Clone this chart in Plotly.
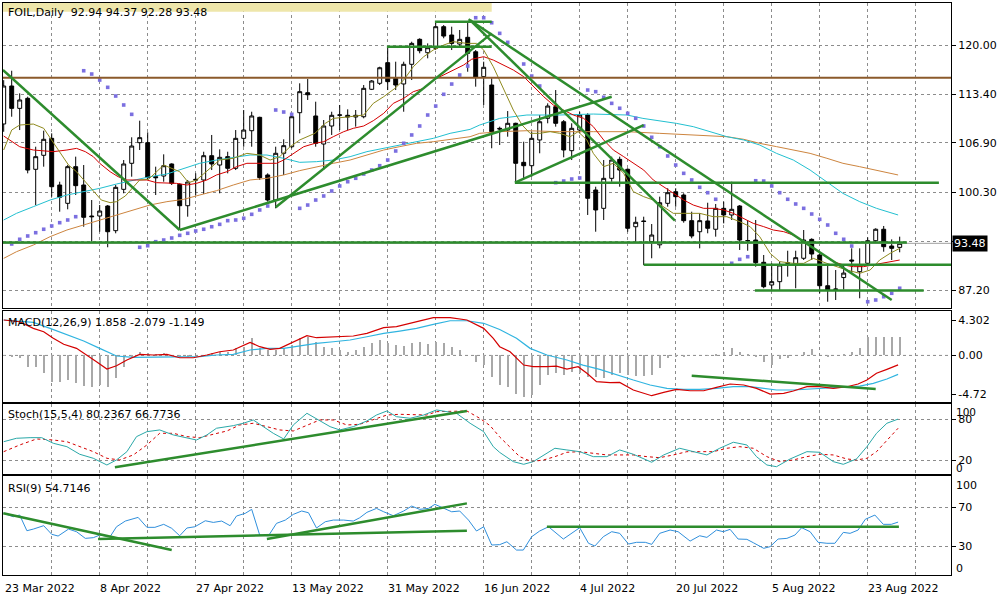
import plotly.graph_objects as go

# ---------------- data ----------------
date_labels = ["23 Mar 2022", "8 Apr 2022", "27 Apr 2022", "13 May 2022", "31 May 2022",
               "16 Jun 2022", "4 Jul 2022", "20 Jul 2022", "5 Aug 2022", "23 Aug 2022"]
date_label_bars = [0, 12, 24, 36, 48, 60, 72, 84, 96, 108]

open_ = [109.44, 114.52, 111.53, 112.87, 103.38, 105.25, 107.52, 101.28, 98.83, 103.73,
         101.28, 97.13, 97.13, 98.47, 95.17, 100.70, 104.18, 106.94, 106.94, 102.39,
         102.48, 104.09, 101.37, 98.51, 102.04, 101.95, 105.20, 103.95, 105.07, 103.51,
         107.52, 108.54, 110.33, 102.62, 99.27, 105.52, 106.40, 110.95, 113.62, 110.51,
         106.76, 109.17, 110.60, 110.60, 110.37, 110.41, 114.08, 114.88, 117.64, 115.55,
         114.79, 117.42, 120.76, 118.97, 119.56, 122.45, 121.34, 120.13, 121.03, 119.10,
         115.77, 114.65, 108.86, 108.63, 109.53, 104.31, 103.86, 107.30, 110.20, 111.75,
         109.74, 105.87, 108.63, 110.64, 100.61, 98.16, 102.17, 104.71, 103.38, 95.70,
         96.47, 93.70, 93.28, 98.83, 100.38, 99.94, 96.51, 95.03, 96.47, 95.36,
         98.16, 97.27, 98.47, 93.83, 93.92, 90.94, 87.91, 88.35, 90.81, 90.72,
         91.48, 94.01, 91.92, 87.81, 87.37, 88.90, 91.25, 89.69, 90.81, 93.83,
         95.36, 93.12, 92.94]
high = [115.30, 116.56, 113.54, 113.09, 106.40, 108.54, 108.19, 101.72, 103.95, 105.07,
        103.95, 99.27, 98.60, 98.60, 101.28, 104.62, 107.66, 109.88, 108.32, 103.73,
        105.38, 104.18, 101.50, 101.95, 102.84, 105.73, 107.97, 106.05, 105.73, 108.63,
        111.31, 111.08, 110.41, 102.84, 106.40, 107.39, 110.87, 114.88, 115.45, 112.42,
        109.97, 111.08, 111.98, 111.40, 111.31, 114.65, 115.32, 117.10, 119.77, 117.77,
        117.77, 120.44, 120.90, 120.22, 123.12, 122.67, 122.45, 122.01, 123.00, 119.33,
        117.77, 115.55, 109.08, 111.17, 109.61, 107.07, 108.41, 110.64, 112.20, 113.98,
        109.97, 109.53, 111.08, 110.87, 101.05, 104.62, 105.07, 105.07, 103.51, 97.04,
        97.04, 96.06, 99.72, 100.84, 100.84, 100.17, 97.71, 97.49, 98.91, 98.74,
        99.05, 101.72, 98.60, 96.51, 96.60, 91.92, 90.81, 91.02, 92.49, 92.49,
        95.26, 94.15, 92.15, 90.58, 89.91, 90.70, 92.81, 92.81, 94.28, 95.49,
        95.80, 94.01, 94.37]
low = [108.40, 110.41, 108.63, 102.84, 98.60, 103.73, 99.72, 97.71, 98.03, 99.94,
       95.70, 93.70, 95.03, 92.95, 94.82, 100.17, 102.39, 105.96, 101.95, 99.94,
       101.72, 101.28, 95.26, 97.04, 99.94, 100.08, 103.28, 100.17, 102.84, 103.28,
       106.40, 106.40, 101.95, 99.05, 98.16, 102.62, 106.19, 108.19, 112.65, 106.40,
       103.28, 107.97, 108.63, 108.63, 109.08, 110.20, 113.98, 114.65, 113.98, 113.98,
       111.08, 115.32, 118.89, 118.22, 119.33, 120.90, 119.33, 119.77, 116.43, 114.43,
       111.98, 106.19, 106.63, 107.74, 101.59, 102.17, 102.39, 105.52, 109.53, 109.08,
       104.98, 104.62, 108.19, 97.27, 95.03, 96.60, 101.72, 101.05, 95.03, 93.70,
       90.58, 91.48, 92.81, 98.38, 98.38, 96.24, 94.15, 92.81, 94.82, 94.37,
       96.15, 96.60, 92.59, 92.49, 90.35, 87.47, 87.24, 87.24, 89.02, 87.47,
       91.25, 91.25, 86.80, 85.67, 85.90, 87.30, 89.47, 86.13, 90.58, 93.70,
       92.36, 91.25, 92.28]
close = [114.52, 111.53, 112.65, 103.28, 105.07, 107.39, 101.05, 99.64, 103.73, 101.19,
         96.96, 97.04, 97.80, 95.03, 100.97, 104.09, 106.49, 107.61, 102.26, 102.26,
         103.86, 101.50, 98.51, 101.68, 101.95, 105.20, 104.09, 104.98, 103.51, 107.52,
         108.63, 110.51, 102.26, 99.27, 105.52, 106.54, 110.41, 113.76, 113.35, 106.85,
         109.17, 110.60, 110.65, 110.37, 110.60, 114.21, 115.19, 116.96, 115.10, 114.65,
         117.42, 120.22, 119.24, 119.64, 122.45, 121.20, 120.22, 120.76, 118.89, 115.68,
         117.02, 108.41, 108.77, 109.53, 104.18, 103.86, 107.52, 109.74, 111.84, 109.53,
         105.96, 108.86, 110.64, 99.50, 97.94, 102.17, 104.62, 103.28, 95.49, 96.29,
         96.40, 94.59, 98.91, 100.25, 99.72, 96.51, 94.46, 96.51, 95.49, 98.16,
         97.27, 98.03, 93.92, 93.85, 90.89, 87.68, 88.35, 90.58, 90.85, 91.56,
         93.92, 92.05, 87.81, 87.24, 87.33, 89.50, 91.12, 90.58, 93.83, 95.36,
         93.03, 92.81, 93.48]

sar = [None, 93.39, 94.02, 94.46, 94.90, 95.36, 95.80, 96.24, 96.60, 97.04,
       116.56, 116.12, 115.32, 114.34, 113.18, 111.98, 110.73, 92.95, 93.16, 93.70,
       93.92, 94.19, 94.55, 94.82, 95.13, 95.36, 95.70, 96.02, 96.51, 96.60,
       96.83, 97.36, 97.94, 98.47, 111.31, 111.04, 110.73, 98.16, 98.60, 99.27,
       99.81, 100.48, 101.15, 101.72, 102.18, 102.75, 103.28, 103.86, 104.62, 105.83,
       106.86, 107.97, 109.17, 110.64, 111.84, 113.41, 114.78, 115.99, 117.19, 123.65,
       123.65, 122.98, 121.56, 120.36, None, 117.46, 115.85, 114.52, None, 101.59,
       101.81, 102.08, 102.22, 113.98, 113.76, 113.01, 112.20, 111.54, 110.87, 110.20,
       109.17, 107.66, 106.40, 105.16, 103.95, 102.84, 101.95, 100.97, 100.25, 99.37,
       None, 90.81, 91.34, 91.69, 101.85, 101.81, 101.15, 100.25, 99.37, 98.74,
       98.16, 97.40, 96.69, 95.93, 94.82, 94.02, 93.12, None, 85.67, 85.90,
       86.34, 86.80, 87.47]

# moving averages sampled along the chart: (bar position, price)
ma_fast = [(0, 105.96), (1, 108.63), (2, 109.30), (3.7, 109.43), (5, 108.86), (6, 107.30), (7, 105.74),
           (8.1, 103.95), (9.1, 103.06), (10.2, 101.72), (11.2, 100.39), (12.2, 99.27), (13.3, 98.92),
           (14.1, 99.05), (15.2, 99.81), (16.2, 101.06), (17, 101.95), (18.1, 102.04), (20, 103.95),
           (22, 103.06), (23.1, 101.59), (24.1, 101.95), (25.6, 103.28), (27, 104.62), (28.7, 104.85),
           (30.4, 105.51), (32, 105.29), (33.3, 104.62), (34.5, 105.07), (35.8, 106.40), (37, 107.30),
           (38.9, 108.19), (40.2, 109.52), (41.2, 110.19), (43.3, 110.42), (45, 110.64), (46.2, 112.20),
           (47.5, 113.09), (48.9, 114.20), (50, 115.32), (51.2, 117.10), (52.5, 118.44), (53.7, 119.33),
           (55, 120.00), (56.2, 120.45), (57.9, 120.22), (59.1, 120.22), (60, 119.33), (61.2, 117.10),
           (62.5, 113.98), (63.7, 111.31), (64.8, 109.30), (65.8, 108.19), (67, 108.19), (68.3, 108.41),
           (69.5, 108.19), (70.8, 107.74), (71.8, 108.41), (72.9, 107.30), (73.7, 105.51), (75, 103.73),
           (76.2, 104.18), (77.5, 102.84), (78.7, 100.39), (80, 99.72), (81.2, 99.27), (82.5, 98.38),
           (83.7, 97.49), (85.4, 97.49), (87, 97.49), (88.7, 97.04), (90.4, 97.04), (92, 96.38),
           (93.3, 95.71), (94.5, 94.37), (95.8, 92.14), (97, 91.03), (98.7, 90.80), (100, 90.80),
           (101.2, 91.47), (102.9, 90.80), (104.1, 90.36), (105.4, 89.91), (107, 89.47), (108.3, 89.91),
           (109.5, 91.25), (110.8, 92.14), (112, 92.81)]
ma_mid = [(0, 107.83), (0.8, 107.30), (2, 106.40), (3.7, 105.96), (5, 105.87), (6.2, 105.74), (7.9, 105.96),
          (9.1, 106.18), (10.2, 105.74), (11.2, 105.07), (12, 104.18), (13.3, 103.06), (14.3, 102.39),
          (15.4, 101.95), (16.6, 101.95), (17.9, 101.95), (19.1, 101.59), (20.4, 101.50), (21.6, 101.50),
          (22.9, 101.28), (24.1, 101.50), (25.4, 101.95), (26.6, 102.62), (27.9, 103.06), (29.1, 103.73),
          (30.4, 104.18), (31.6, 104.18), (32.9, 104.18), (34.1, 104.18), (35, 104.62), (36.2, 105.51),
          (37.5, 106.40), (38.9, 106.85), (40, 107.07), (41.2, 107.74), (42.5, 108.41), (43.7, 108.86),
          (45, 109.17), (46.2, 109.88), (47.5, 110.86), (48.7, 112.20), (50, 112.87), (51.2, 113.76),
          (52.5, 114.20), (53.7, 115.32), (55, 115.99), (56.2, 116.66), (57.5, 117.33), (58.5, 118.10),
          (60, 118.44), (61.2, 117.99), (62.5, 117.33), (63.7, 116.66), (65, 115.77), (66.2, 114.43),
          (67.5, 113.09), (68.7, 111.98), (70, 111.31), (71.2, 110.64), (72.5, 110.19), (73.7, 109.08),
          (75, 107.30), (76.2, 105.96), (77.5, 105.07), (78.7, 104.18), (80, 103.28), (81.2, 101.95),
          (82.5, 101.06), (83.7, 100.16), (85, 99.27), (86.2, 98.60), (87.5, 98.16), (88.7, 98.16),
          (90, 97.94), (91.2, 97.49), (92.5, 96.82), (93.7, 96.15), (95, 95.71), (96.2, 95.26),
          (97.5, 95.04), (98.7, 94.59), (100, 93.70), (101.2, 92.81), (102.5, 91.92), (103.7, 91.03),
          (105, 90.58), (106.2, 90.36), (107.5, 90.36), (108.7, 90.58), (110, 90.80), (111.2, 91.03),
          (112, 91.25)]
ma_slow = [(0, 96.60), (1.6, 97.49), (3.7, 98.38), (5.8, 99.27), (7.9, 99.94), (10, 100.39), (12, 100.83),
           (14.1, 101.41), (16.2, 101.95), (18.3, 102.39), (20.4, 102.75), (22.5, 103.51), (24.5, 104.18),
           (26.6, 104.62), (28.7, 104.98), (30.8, 105.29), (32.9, 105.29), (35, 104.85), (37, 104.31),
           (39.1, 104.40), (41.2, 104.62), (43.3, 105.07), (45.4, 105.74), (47.5, 106.18), (49.5, 106.63),
           (51.6, 107.07), (53.7, 107.52), (55.8, 108.19), (58.3, 108.72), (59.5, 109.30), (62, 110.19),
           (65.4, 110.64), (69.5, 110.64), (73.7, 110.77), (77.9, 110.64), (79.9, 110.19), (84.1, 109.52),
           (86.2, 109.08), (88.3, 108.41), (90.4, 107.74), (92.5, 107.30), (94.5, 106.63), (96.6, 105.51),
           (98.7, 104.62), (100.8, 103.28), (102.9, 101.72), (104.9, 100.16), (107, 99.05), (109.1, 98.16),
           (111.8, 97.27)]
ma_long = [(0, 91.47), (1.6, 92.36), (3.7, 93.25), (5.8, 94.37), (7.9, 95.26), (10, 95.93), (12, 96.60),
           (14.1, 97.27), (16.2, 97.94), (18.3, 98.61), (20.4, 99.05), (22.5, 99.36), (24.5, 99.94),
           (26.6, 100.52), (28.7, 101.28), (30.8, 101.95), (32.9, 102.17), (35, 102.62), (37, 103.20),
           (39.1, 103.73), (41.2, 104.18), (43.3, 104.62), (45.4, 105.29), (47.5, 105.96), (49.5, 106.41),
           (51.6, 106.85), (53.7, 107.07), (55.8, 107.39), (58.3, 107.74), (59.5, 108.19), (62, 108.41),
           (65.4, 108.54), (69.5, 108.41), (73.7, 108.41), (77.9, 108.41), (82, 108.19), (86.2, 107.96),
           (90.4, 107.74), (92.5, 107.39), (94.5, 106.85), (96.6, 106.41), (98.7, 105.96), (100.8, 105.51),
           (102.9, 104.85), (104.9, 104.18), (107, 103.73), (109.1, 103.28), (111.8, 102.62)]

# drawn objects on price chart: (bar0, price0, bar1, price1)
trend_lines = [(-0.1, 116.66, 22.0, 95.26), (22.0, 95.26, 76.0, 113.09), (34.0, 98.30, 61.0, 121.56),
               (47.9, 119.77, 61.0, 119.77), (53.9, 123.12, 61.0, 123.12), (58.1, 123.44, 111.0, 85.90),
               (58.3, 123.34, 83.9, 96.51), (63.9, 101.59, 80.0, 109.30), (63.9, 101.59, 116.9, 101.59),
               (-0.1, 93.59, 112.9, 93.59), (80.0, 90.62, 118.5, 90.62), (93.9, 87.17, 115.0, 87.17)]
resistance_level = 115.62
last_price = 93.48
header_box = (-0.1, 124.45, 61.0, 126.0)

# MACD
macd_hist = [-0.05, -0.1, -0.3, -1.45, -1.45, -2.17, -3.19, -3.19, -2.99, -3.39,
             -3.68, -3.80, -3.59, -3.80, -2.71, -1.37, -0.35, 0.45, 0.25, 0.13,
             0.25, 0.05, -0.23, -0.23, 0.0, 0.05, 0.25, 0.45, 0.45, 0.86,
             1.06, 2.08, 0.86, 0.66, 0.66, 0.86, 1.26, 2.08, 2.27, 1.66,
             1.06, 0.86, 0.66, 0.45, 0.66, 1.06, 1.47, 1.87, 1.47, 1.26,
             1.18, 1.47, 1.59, 1.35, 1.59, 1.47, 1.06, 0.66, 0.0, -0.76,
             -1.17, -2.59, -3.59, -3.80, -4.72, -5.01, -4.85, -3.59, -2.38, -2.17,
             -2.38, -1.98, -2.17, -2.59, -2.59, -2.71, -2.38, -2.17, -2.38, -2.5,
             -2.46, -2.38, -1.57, -0.35, -0.15, -0.15, 0.0, 0.0, 0.05, 0.13,
             0.45, 0.94, 0.45, 0.13, -0.15, -0.76, -1.17, -0.48, -0.35, 0.0,
             0.45, 0.74, 0.0, -0.15, 0.0, 0.13, 0.45, 0.94, 2.2, 2.2,
             2.2, 2.2, 2.2]
macd_main = [(0, 4.30), (2, 4.09), (3.7, 3.29), (5, 2.88), (6.2, 2.08), (7.5, 1.35), (9.1, 0.86), (10.4, 0.05),
             (11.6, -0.76), (12.9, -1.65), (14.1, -1.25), (15.4, -0.56), (17, 0.13), (18.7, 0.05), (20.4, 0.13),
             (22, -0.28), (23.7, -0.28), (25.4, 0.05), (27, 0.45), (28.7, 0.66), (30.8, 1.59), (32, 1.06),
             (33.3, 0.74), (34.5, 0.86), (36.2, 1.59), (37.9, 2.39), (39.1, 2.15), (41.2, 2.27), (43.7, 2.36),
             (45.4, 2.68), (47.5, 3.37), (49.1, 3.49), (51.6, 4.09), (53.7, 4.58), (55.8, 4.58), (57.9, 4.30),
             (60, 3.29), (61.2, 2.08), (62, 1.06), (63.3, 0.45), (65, -1.17), (66.2, -1.37), (67.9, -1.37),
             (69.1, -1.29), (70.4, -1.65), (71.8, -1.37), (72.9, -2.17), (74.1, -3.19), (75.8, -3.31),
             (77, -3.27), (78.7, -4.20), (81, -4.89), (82.5, -4.48), (84.1, -4.12), (85.8, -4.29),
             (87.5, -4.29), (89.1, -3.87), (90.8, -3.47), (92.5, -3.59), (94.1, -4.00), (95.8, -4.69),
             (97.5, -4.60), (98.7, -4.32), (100.4, -3.80), (102, -3.80), (103.7, -4.00), (105.4, -3.80),
             (106.8, -3.47), (107.9, -2.99), (109.1, -2.17), (110.4, -1.69), (111.8, -1.15)]
macd_signal = [(0, 4.30), (3.7, 4.02), (5.8, 3.29), (7.9, 2.48), (10, 1.75), (12, 0.86), (14.1, -0.07),
               (16.2, -0.23), (18.3, -0.23), (20.4, -0.15), (22.5, -0.15), (24.5, -0.15), (26.6, 0.05),
               (28.7, 0.13), (30.8, 0.66), (32.9, 0.86), (35, 0.86), (37, 1.18), (39.1, 1.47), (41.2, 1.66),
               (43.3, 1.87), (45.4, 2.27), (47.5, 2.68), (49.5, 2.96), (51.6, 3.29), (53.7, 3.78), (55.8, 4.21),
               (57.9, 4.21), (60, 3.90), (62, 3.15), (64.1, 2.08), (65.8, 0.86), (67.9, 0.05), (70.4, -0.56),
               (72.4, -1.17), (74.5, -1.69), (76.6, -2.38), (78.7, -2.99), (80.8, -3.59), (82.9, -4.00),
               (85, -4.12), (87, -4.12), (89.1, -4.00), (91.2, -3.80), (93.3, -3.80), (95.4, -4.00),
               (96.6, -4.20), (98.7, -4.20), (100.8, -4.08), (102.9, -3.92), (105, -3.80), (107, -3.72),
               (108.7, -3.39), (110.4, -2.87), (111.8, -2.30)]
macd_trend = [(86.0, -2.47, 109.0, -4.08)]

# Stochastic
stoch_main = [(0, 47.1), (1.6, 52.1), (3.3, 53.0), (4.75, 53.0), (6.2, 44.8), (7.9, 39.8), (9.5, 28.7),
              (11.2, 22.8), (12.9, 13.0), (14.1, 20.4), (15.4, 32.5), (16.6, 54.5), (17.9, 61.8), (19.5, 64.3),
              (21.2, 57.0), (22.9, 52.1), (24.1, 49.6), (25.4, 57.0), (26.6, 66.8), (28.7, 70.6), (29.95, 74.1),
              (31.2, 78.9), (32.5, 69.1), (33.7, 59.4), (35, 51.1), (36.2, 71.6), (37.9, 88.7), (39.1, 80.4),
              (40.8, 69.1), (42, 64.3), (43.7, 69.1), (45.4, 77.5), (46.6, 86.2), (47.9, 92.1), (49.1, 83.7),
              (50.8, 81.4), (52.5, 86.2), (54.1, 93.6), (55.4, 91.1), (56.6, 88.7), (58.3, 74.1), (60, 61.8),
              (61.2, 39.8), (62, 31.4), (63.7, 17.9), (65, 14.0), (66.2, 17.9), (67.5, 27.7), (68.9, 37.5),
              (70.4, 35.0), (72, 32.5), (73.7, 25.2), (75.4, 25.2), (77, 35.0), (78.7, 28.7), (81, 17.0),
              (82.5, 27.7), (84.5, 37.5), (86.2, 32.5), (87.9, 27.7), (89.5, 37.5), (91.2, 46.3), (92.9, 42.3),
              (94.1, 25.2), (95.4, 13.0), (96.6, 10.5), (98.3, 21.8), (100.4, 32.5), (102, 31.6), (103.7, 17.9),
              (104.95, 14.0), (106.6, 21.8), (107.9, 39.8), (109.1, 59.4), (110.4, 74.1), (111.8, 80.2)]
stoch_signal = [(0, 32.5), (2, 42.3), (4.1, 51.1), (6.2, 49.6), (7.9, 47.1), (9.5, 39.8), (11.2, 32.5),
                (12.9, 22.8), (14.5, 20.4), (16.2, 27.7), (17.9, 42.3), (19.5, 59.4), (21.2, 59.4), (22.9, 54.5),
                (24.5, 53.0), (26.2, 58.0), (27.9, 62.8), (29.5, 71.6), (31.2, 74.1), (32.9, 69.1), (34.5, 64.3),
                (36.2, 62.8), (37.9, 70.6), (39.5, 78.9), (41.2, 78.9), (42.9, 71.6), (44.5, 72.6), (46.2, 78.9),
                (47.9, 86.2), (49.5, 87.2), (51.2, 86.2), (52.9, 86.2), (54.1, 91.1), (55.8, 91.1), (57.9, 92.1),
                (59.5, 81.4), (60.8, 70.6), (62, 54.0), (63.3, 38.4), (64.5, 25.2), (66, 17.9), (67.5, 20.4),
                (68.9, 25.2), (70.4, 31.6), (72, 32.5), (73.7, 30.2), (75.4, 27.7), (77, 27.7), (78.7, 27.7),
                (80.4, 25.2), (82, 23.7), (83.7, 27.7), (85.4, 32.5), (87, 32.5), (88.7, 32.5), (90.4, 37.5),
                (92, 39.8), (93.7, 37.5), (95.4, 25.2), (97, 17.9), (98.7, 20.4), (100.4, 25.2), (102, 28.7),
                (103.7, 27.7), (105.4, 21.8), (106.6, 20.4), (107.9, 22.8), (109.1, 32.5), (110.4, 49.6),
                (111.8, 66.8)]
stoch_trend = [(13.9, 9.7, 57.9, 92.1)]

# RSI
rsi = [(0, 63.8), (1.2, 60.3), (2, 62.0), (2.9, 45.8), (3.7, 47.5), (5, 51.0), (6, 42.1), (6.8, 40.3),
       (8.1, 47.5), (9.1, 44.8), (10.2, 37.9), (11.2, 38.6), (12, 41.3), (13.3, 39.6), (14.1, 49.9),
       (15.2, 55.8), (16.8, 59.6), (17.9, 49.3), (18.9, 49.3), (20, 52.4), (21, 48.3), (22, 40.6),
       (22.9, 48.6), (23.9, 49.9), (25.2, 56.1), (26.2, 54.4), (27.25, 55.8), (28.3, 51.0), (29.1, 61.0),
       (30.2, 63.8), (31, 67.9), (32, 41.3), (33.1, 40.6), (34.1, 53.4), (35.2, 56.8), (36.2, 62.7),
       (37.25, 66.2), (38.1, 64.4), (39.1, 48.6), (40.2, 55.1), (41.2, 56.8), (42.5, 56.8), (43.7, 55.8),
       (44.5, 59.2), (45.4, 64.8), (46.6, 68.9), (47.5, 65.4), (48.7, 61.3), (50, 66.2), (51, 71.3),
       (52, 67.9), (53.1, 68.9), (53.9, 73.1), (55, 68.9), (56, 65.4), (57, 66.2), (58.1, 56.8),
       (59.1, 45.5), (60, 49.9), (61, 31.0), (62, 31.4), (62.9, 34.4), (64.1, 25.8), (64.95, 25.8),
       (66, 39.6), (67, 45.5), (68.1, 49.9), (69.95, 37.2), (72, 48.9), (73.1, 32.8), (73.9, 30.0),
       (74.95, 39.6), (76, 44.8), (77, 43.1), (78.1, 32.0), (79.1, 33.8), (80.2, 33.8), (81, 31.7),
       (82, 43.1), (83.3, 46.5), (84.3, 44.8), (85.8, 35.1), (87, 40.6), (87.9, 38.9), (89.1, 46.5),
       (89.95, 44.8), (90.8, 47.2), (91.8, 37.2), (92.9, 36.9), (93.7, 33.4), (95, 27.6), (95.8, 29.3),
       (96.8, 37.2), (97.9, 37.9), (98.9, 41.3), (99.75, 48.9), (100.8, 44.8), (101.8, 33.8),
       (102.9, 32.8), (103.9, 32.8), (104.95, 44.1), (105.8, 43.1), (106.8, 46.5), (107.7, 57.6),
       (108.9, 62.0), (109.95, 52.4), (110.95, 52.4), (111.8, 54.7)]
rsi_trend = [(-0.05, 63.8, 21.0, 25.8), (11.8, 37.2, 57.9, 45.8), (32.9, 37.2, 57.9, 74.1),
             (67.9, 49.9, 111.9, 49.9)]

price_ticks = [120.0, 113.4, 106.9, 100.3, 93.7, 87.2]
price_tick_text = ["120.00", "113.40", "106.90", "100.30", "", "87.20"]
macd_ticks = [4.302, 0.0, -4.72]
macd_tick_text = ["4.302", "0.00", "-4.72"]

# ---------------- layout geometry ----------------
W, H = 1000, 600
ML, MR, MT, MB = 3, 49, 3, 25
PW, PH = W - ML - MR, H - MT - MB
BAR_PX = 8.0
X0 = -0.7 / BAR_PX
XR = [X0, X0 + PW / BAR_PX]


def py(p):
    return (H - MB - p) / PH


def pxx(p):
    return (p - ML) / PW


def bar_paper(b):
    return (b - XR[0]) / (XR[1] - XR[0])


FONT = "DejaVu Sans"
GREEN = "#2d8c2d"
bars = list(range(len(close)))


def unzip(pairs):
    return [p[0] for p in pairs], [p[1] for p in pairs]


def segs(lst):
    xs, ys = [], []
    for x0, y0, x1, y1 in lst:
        xs += [x0, x1, None]
        ys += [y0, y1, None]
    return xs, ys


fig = go.Figure()

# price panel
fig.add_trace(go.Candlestick(
    x=bars, open=open_, high=high, low=low, close=close,
    increasing=dict(line=dict(color="black", width=1), fillcolor="white"),
    decreasing=dict(line=dict(color="black", width=1), fillcolor="black"),
    whiskerwidth=0, xaxis="x", yaxis="y", showlegend=False, hoverinfo="skip"))

for data, col in [(ma_long, "#cd853f"), (ma_slow, "#22c0d0"), (ma_mid, "#d40000"), (ma_fast, "#8f8a1e")]:
    xs, ys = unzip(data)
    fig.add_trace(go.Scatter(x=xs, y=ys, mode="lines", line=dict(color=col, width=1),
                             xaxis="x", yaxis="y", showlegend=False, hoverinfo="skip"))

fig.add_trace(go.Scatter(x=bars, y=sar, mode="markers",
                         marker=dict(color="#7b6fe0", size=3.6, symbol="square"),
                         xaxis="x", yaxis="y", showlegend=False, hoverinfo="skip"))

fig.add_trace(go.Scatter(x=[XR[0], XR[1]], y=[last_price, last_price], mode="lines",
                         line=dict(color="#a0a0a0", width=1), xaxis="x", yaxis="y",
                         showlegend=False, hoverinfo="skip"))
fig.add_trace(go.Scatter(x=[XR[0], XR[1]], y=[resistance_level, resistance_level], mode="lines",
                         line=dict(color="#8b5a2b", width=2.2), xaxis="x", yaxis="y",
                         showlegend=False, hoverinfo="skip"))
xs, ys = segs(trend_lines)
fig.add_trace(go.Scatter(x=xs, y=ys, mode="lines", line=dict(color=GREEN, width=2.5),
                         xaxis="x", yaxis="y", showlegend=False, hoverinfo="skip"))

# MACD panel
fig.add_trace(go.Bar(x=bars, y=macd_hist, width=0.14, marker=dict(color="#a8a8a8", line=dict(width=0)),
                     xaxis="x2", yaxis="y2", showlegend=False, hoverinfo="skip"))
xs, ys = unzip(macd_signal)
fig.add_trace(go.Scatter(x=xs, y=ys, mode="lines", line=dict(color="#30b4e0", width=1.2),
                         xaxis="x2", yaxis="y2", showlegend=False, hoverinfo="skip"))
xs, ys = unzip(macd_main)
fig.add_trace(go.Scatter(x=xs, y=ys, mode="lines", line=dict(color="#d40000", width=1.2),
                         xaxis="x2", yaxis="y2", showlegend=False, hoverinfo="skip"))
xs, ys = segs(macd_trend)
fig.add_trace(go.Scatter(x=xs, y=ys, mode="lines", line=dict(color=GREEN, width=2.5),
                         xaxis="x2", yaxis="y2", showlegend=False, hoverinfo="skip"))

# Stochastic panel
xs, ys = unzip(stoch_signal)
fig.add_trace(go.Scatter(x=xs, y=ys, mode="lines", line=dict(color="#d40000", width=1, dash="3px,3px"),
                         xaxis="x3", yaxis="y3", showlegend=False, hoverinfo="skip"))
xs, ys = unzip(stoch_main)
fig.add_trace(go.Scatter(x=xs, y=ys, mode="lines", line=dict(color="#2aa8a8", width=1),
                         xaxis="x3", yaxis="y3", showlegend=False, hoverinfo="skip"))
xs, ys = segs(stoch_trend)
fig.add_trace(go.Scatter(x=xs, y=ys, mode="lines", line=dict(color=GREEN, width=2.5),
                         xaxis="x3", yaxis="y3", showlegend=False, hoverinfo="skip"))

# RSI panel
xs, ys = unzip(rsi)
fig.add_trace(go.Scatter(x=xs, y=ys, mode="lines", line=dict(color="#2f8fdc", width=1),
                         xaxis="x4", yaxis="y4", showlegend=False, hoverinfo="skip"))
xs, ys = segs(rsi_trend)
fig.add_trace(go.Scatter(x=xs, y=ys, mode="lines", line=dict(color=GREEN, width=2.5),
                         xaxis="x4", yaxis="y4", showlegend=False, hoverinfo="skip"))

grid = dict(showgrid=True, gridcolor="#8c8c8c", gridwidth=1, griddash="3px,3px")
frame = dict(showline=True, linecolor="black", linewidth=1, mirror=True, zeroline=False)
tickfont = dict(family=FONT, size=11, color="black")
xgrid_vals = list(range(6, 115, 6))


def xaxis(anchor, match=True):
    d = dict(domain=[0, 1], range=XR, anchor=anchor, tickvals=xgrid_vals, showticklabels=False,
             ticks="", fixedrange=True, **grid, **frame)
    if match:
        d["matches"] = "x"
    return d


def yaxis(anchor, dom, rng, **kw):
    d = dict(domain=dom, range=rng, anchor=anchor, side="right", ticks="outside", ticklen=4,
             tickcolor="black", tickfont=tickfont, fixedrange=True, **frame)
    d.update(kw)
    return d


fig.update_layout(
    width=W, height=H, margin=dict(l=ML, r=MR, t=MT, b=MB),
    paper_bgcolor="white", plot_bgcolor="white", hovermode=False, showlegend=False,
    font=dict(family=FONT, size=11, color="black"),
    bargap=0,
    xaxis=dict(**xaxis("y", match=False), rangeslider=dict(visible=False)),
    xaxis2=xaxis("y2"), xaxis3=xaxis("y3"), xaxis4=xaxis("y4"),
    yaxis=yaxis("x", [py(308), py(3)], [84.83, 125.62], tickvals=price_ticks,
                ticktext=price_tick_text, **grid),
    yaxis2=yaxis("x2", [py(402), py(311)], [-5.655, 5.395], tickvals=macd_ticks,
                 ticktext=macd_tick_text, showgrid=False),
    yaxis3=yaxis("x3", [py(474), py(404)], [-0.2, 102.3], tickvals=[80, 20],
                 ticktext=["80", "20"], **grid),
    yaxis4=yaxis("x4", [py(575), py(476)], [0, 102.4], tickvals=[70, 30],
                 ticktext=["70", "30"], **grid),
)

shapes = [
    dict(type="rect", xref="x", yref="y", x0=header_box[0], y0=header_box[1], x1=header_box[2],
         y1=header_box[3], fillcolor="#eee6aa", line=dict(width=0), layer="above"),
    dict(type="line", xref="x2 domain", yref="y2", x0=0, x1=1, y0=0, y1=0,
         line=dict(color="#8c8c8c", width=1, dash="3px,3px"), layer="below"),
]
fig.update_layout(shapes=shapes)

ann = []


def label(text, x, y, **kw):
    d = dict(text=text, x=x, y=y, xref="paper", yref="paper", showarrow=False,
             xanchor="left", yanchor="middle", font=dict(family=FONT, size=11, color="black"))
    d.update(kw)
    ann.append(d)


label("FOIL,Daily\u00a0\u00a092.94 94.37 92.28 93.48", pxx(6), py(12.5))
label("MACD(12,26,9) 1.858 -2.079 -1.149", pxx(6), py(322.5))
label("Stoch(15,5,4) 80.2367 66.7736", pxx(6), py(415))
label("RSI(9) 54.7146", pxx(6), py(488))
label("100", pxx(954), py(412), font=dict(family=FONT, size=10.5, color="black"))
label("0", pxx(954), py(468.5), font=dict(family=FONT, size=10.5, color="black"))
label("100", pxx(954), py(485))
label("0", pxx(954), py(568.5))
for b, t in zip(date_label_bars, date_labels):
    label(t, max(bar_paper(b - 0.2), 0.0005), py(588))
ann.append(dict(text="93.48", x=pxx(952), y=last_price, xref="paper", yref="y", showarrow=False,
                xanchor="left", yanchor="middle", bgcolor="black", borderpad=1,
                font=dict(family=FONT, size=11, color="white")))
fig.update_layout(annotations=ann)

fig.write_html("out.html")
